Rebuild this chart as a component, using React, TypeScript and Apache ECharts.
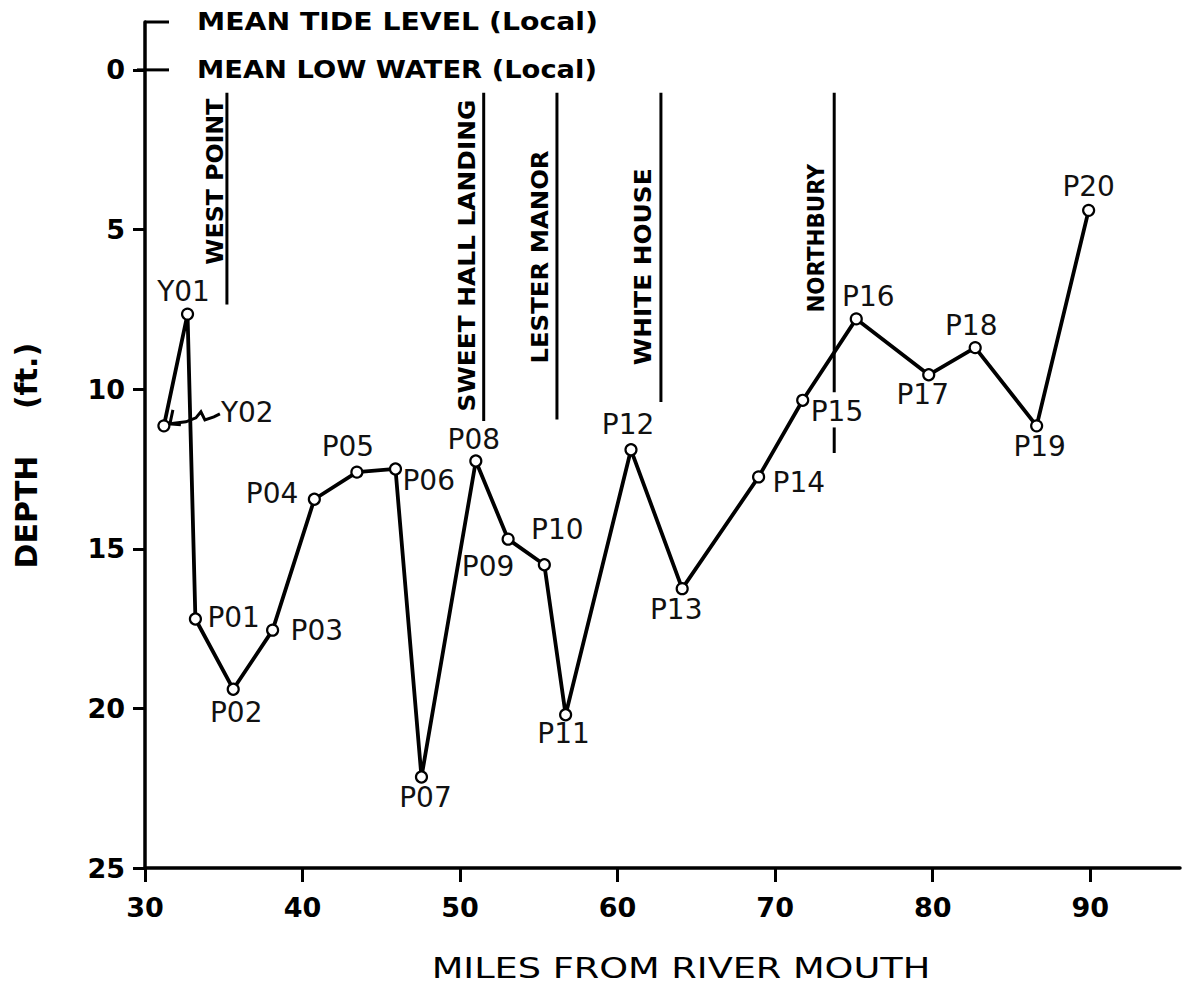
import React, { useEffect, useRef } from 'react';
import * as echarts from 'echarts';

// Sounding stations along the river: name, distance (miles) and depth (ft.)
const stationNames = ['Y02', 'Y01', 'P01', 'P02', 'P03', 'P04', 'P05', 'P06', 'P07', 'P08', 'P09', 'P10', 'P11', 'P12', 'P13', 'P14', 'P15', 'P16', 'P17', 'P18', 'P19', 'P20'];
const stationMiles = [31.2, 32.7, 33.2, 35.6, 38.1, 40.75, 43.45, 45.9, 47.55, 51.0, 53.05, 55.35, 56.7, 60.85, 64.1, 68.95, 71.75, 75.15, 79.75, 82.7, 86.6, 89.9];
const stationDepths = [11.15, 7.65, 17.2, 19.4, 17.55, 13.45, 12.6, 12.5, 22.15, 12.25, 14.7, 15.5, 20.2, 11.9, 16.25, 12.75, 10.35, 7.8, 9.55, 8.7, 11.15, 4.4];

// Axis ticks
const mileTicks = [30, 40, 50, 60, 70, 80, 90];
const depthTicks = [0, 5, 10, 15, 20, 25];

// Reference water levels (depth in ft. below mean low water)
const levelNames = ['MEAN TIDE LEVEL (Local)', 'MEAN LOW WATER (Local)'];
const levelDepths = [-1.5, 0];

// Landmarks along the river
const townNames = ['WEST POINT', 'SWEET HALL LANDING', 'LESTER MANOR', 'WHITE HOUSE', 'NORTHBURY'];
const townMiles = [35.2, 51.5, 56.15, 62.75, 73.75];
const townLineTop = [0.72, 0.72, 0.72, 0.72, 0.72];
const townLineBottom = [7.35, 11.0, 10.95, 10.4, 10.1];
const townLabelBase = [6.1, 10.7, 9.2, 9.25, 7.6];
const northburyStub = [11.2, 12.0];

// Label placement around each station marker: [dx, dy, align]
const labelPlacement: Record<string, [number, number, string]> = {
  Y02: [57, -13, 'left'],
  Y01: [-4, -23, 'center'],
  P01: [12, -1, 'left'],
  P02: [3, 23, 'center'],
  P03: [18, 0, 'left'],
  P04: [-16, -6, 'right'],
  P05: [-9, -26, 'center'],
  P06: [7, 12, 'left'],
  P07: [4, 20, 'center'],
  P08: [-2, -21, 'center'],
  P09: [-20, 27, 'center'],
  P10: [13, -35, 'center'],
  P11: [-2, 19, 'center'],
  P12: [-3, -25, 'center'],
  P13: [-6, 21, 'center'],
  P14: [14, 6, 'left'],
  P15: [8, 11, 'left'],
  P16: [12, -22, 'center'],
  P17: [-6, 20, 'center'],
  P18: [-4, -22, 'center'],
  P19: [3, 21, 'center'],
  P20: [0, -24, 'center'],
};

// Horizontal gap and stretch of each landmark caption
const townLabelGap = [-12, -16, -17, -18, -18];
const townLabelStretch = [1.03, 1.08, 1.06, 1.08, 0.93];

const INK = '#000';
const FONT = '"DejaVu Sans", sans-serif';

export default function App() {
  const ref = useRef<HTMLDivElement>(null);

  useEffect(() => {
    const el = ref.current;
    if (!el) return;
    const chart = echarts.init(el, undefined, { renderer: 'svg' });

    const townSeries: any[] = [];
    townNames.forEach((n, i) => {
      townSeries.push({
        type: 'line',
        name: n,
        data: [[townMiles[i], townLineTop[i]], [townMiles[i], townLineBottom[i]]],
        symbol: 'none',
        silent: true,
        lineStyle: { color: INK, width: 3 },
        z: 1,
      });
    });
    townSeries.push({
      type: 'line',
      name: 'NORTHBURY stub',
      data: [[townMiles[4], northburyStub[0]], [townMiles[4], northburyStub[1]]],
      symbol: 'none',
      silent: true,
      lineStyle: { color: INK, width: 3 },
      z: 1,
    });

    const option: any = {
      animation: false,
      backgroundColor: '#fff',
      grid: { left: 145, right: 4, top: 22, bottom: 117, containLabel: false },
      xAxis: {
        type: 'value',
        min: 30,
        max: 95.7,
        axisLine: { show: true, onZero: false, lineStyle: { color: INK, width: 3.5 } },
        axisTick: { show: true, customValues: mileTicks, length: 14, lineStyle: { color: INK, width: 3 } },
        axisLabel: {
          customValues: mileTicks,
          margin: 26,
          fontSize: 27,
          fontWeight: 'bold',
          fontFamily: FONT,
          color: INK,
        },
        splitLine: { show: false },
      },
      yAxis: {
        type: 'value',
        inverse: true,
        min: -1.5,
        max: 25,
        axisLine: { show: true, onZero: false, lineStyle: { color: INK, width: 3.5 } },
        axisTick: { show: true, customValues: depthTicks, length: 12, lineStyle: { color: INK, width: 3 } },
        axisLabel: {
          customValues: depthTicks,
          margin: 20,
          fontSize: 27,
          fontWeight: 'bold',
          fontFamily: FONT,
          color: INK,
        },
        splitLine: { show: false },
      },
      series: [
        ...townSeries,
        {
          type: 'line',
          name: 'Depth',
          showAllSymbol: true,
          symbol: 'circle',
          symbolSize: 11,
          itemStyle: { color: '#fff', borderColor: INK, borderWidth: 2.2 },
          lineStyle: { color: INK, width: 3.8 },
          z: 3,
          data: stationNames.map((n, i) => {
            const p = labelPlacement[n];
            return {
              name: n,
              value: [stationMiles[i], stationDepths[i]],
              label: {
                show: true,
                position: 'inside',
                offset: [p[0], p[1]],
                align: p[2],
                verticalAlign: 'middle',
                formatter: '{b}',
                fontSize: 28,
                fontFamily: FONT,
                color: '#111',
              },
            };
          }),
        },
      ],
    };

    chart.setOption(option);

    const toPx = (x: number, y: number) => chart.convertToPixel({ gridIndex: 0 }, [x, y]) as number[];
    const graphics: any[] = [];

    // Reference level ticks and captions
    levelNames.forEach((name, i) => {
      const p = toPx(30, levelDepths[i]);
      graphics.push({
        type: 'line',
        silent: true,
        shape: { x1: p[0] - (i === 1 ? 8 : 0), y1: p[1], x2: p[0] + 24, y2: p[1] },
        style: { stroke: INK, lineWidth: 3 },
      });
      graphics.push({
        type: 'text',
        silent: true,
        x: p[0] + 52,
        y: p[1],
        scaleX: i === 0 ? 1.18 : 1.14,
        style: {
          text: name,
          font: `bold 24px ${FONT}`,
          fill: INK,
          align: 'left',
          verticalAlign: 'middle',
        },
      });
    });

    // Landmark captions, reading upward beside each line
    townNames.forEach((name, i) => {
      const p = toPx(townMiles[i], townLabelBase[i]);
      graphics.push({
        type: 'text',
        silent: true,
        x: p[0] + townLabelGap[i],
        y: p[1],
        rotation: Math.PI / 2,
        scaleX: townLabelStretch[i],
        style: {
          text: name,
          font: `bold 23px ${FONT}`,
          fill: INK,
          align: 'left',
          verticalAlign: 'middle',
        },
      });
    });

    // Hand-drawn pointer from the Y02 caption to its marker
    const y02 = toPx(stationMiles[0], stationDepths[0]);
    const rel = (pts: number[][]) => pts.map(([dx, dy]) => [y02[0] + dx, y02[1] + dy]);
    graphics.push({
      type: 'polyline',
      silent: true,
      shape: { points: rel([[6, -2], [22, -4], [32, -8], [37, -14], [41, -6], [50, -9], [56, -12]]) },
      style: { stroke: INK, lineWidth: 3, fill: null },
    });
    graphics.push({
      type: 'polyline',
      silent: true,
      shape: { points: rel([[9, -16], [6, -2], [17, -1]]) },
      style: { stroke: INK, lineWidth: 3, fill: null },
    });

    // Axis titles
    graphics.push({
      type: 'text',
      silent: true,
      x: 26,
      y: 512,
      rotation: Math.PI / 2,
      style: { text: 'DEPTH', font: `bold 30px ${FONT}`, fill: INK, align: 'center', verticalAlign: 'middle' },
    });
    graphics.push({
      type: 'text',
      silent: true,
      x: 26,
      y: 376,
      rotation: Math.PI / 2,
      style: { text: '(ft.)', font: `bold 30px ${FONT}`, fill: INK, align: 'center', verticalAlign: 'middle' },
    });
    graphics.push({
      type: 'text',
      silent: true,
      x: 681,
      y: 969,
      scaleX: 1.31,
      style: {
        text: 'MILES FROM RIVER MOUTH',
        font: `28px ${FONT}`,
        fill: INK,
        align: 'center',
        verticalAlign: 'middle',
      },
    });

    chart.setOption({ graphic: graphics });

    return () => chart.dispose();
  }, []);

  return (
    <div
      ref={ref}
      style={{ position: 'fixed', left: 0, top: 0, width: 1184, height: 985, background: '#fff' }}
    />
  );
}
